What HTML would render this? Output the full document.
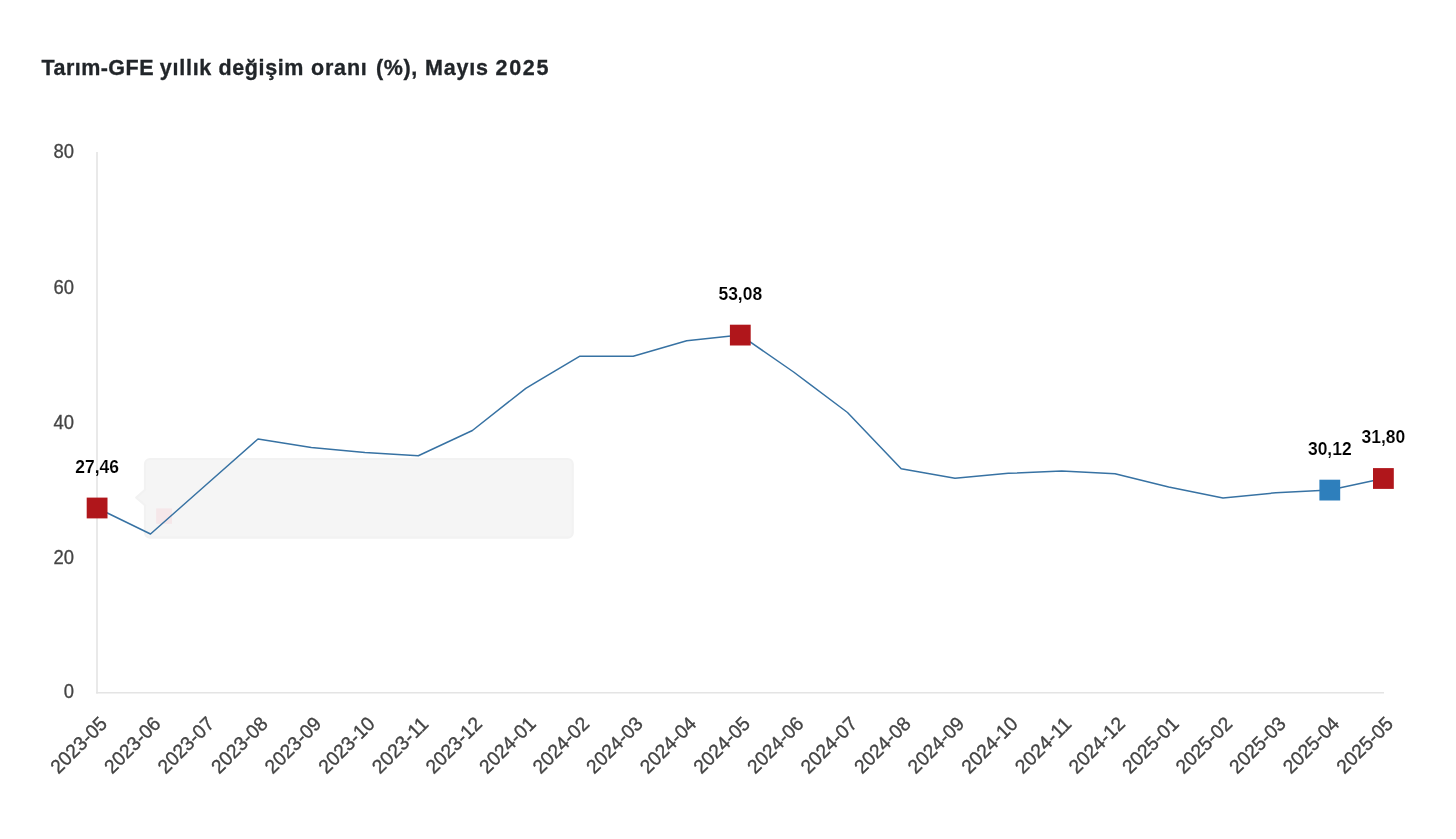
<!DOCTYPE html>
<html lang="tr"><head><meta charset="utf-8"><title>Tarım-GFE</title>
<style>
html,body{margin:0;padding:0;background:#fff;}
body{width:1456px;height:839px;overflow:hidden;position:relative;font-family:"Liberation Sans",sans-serif;}
.title{position:absolute;left:0;top:53.5px;font-size:21.5px;line-height:28px;font-weight:bold;color:#212529;white-space:nowrap;will-change:transform;width:600px;height:30px;-webkit-text-stroke:0.3px #212529;}
.title span{position:absolute;top:0;}
svg{position:absolute;left:0;top:0;will-change:transform;}
.tick{font-family:"Liberation Sans",sans-serif;font-size:19.6px;fill:#444;stroke:#444;stroke-width:0.35px;}
.ytick{font-size:19.3px;stroke-width:0.3px;}
.dl{font-family:"Liberation Sans",sans-serif;font-size:17.8px;font-weight:bold;fill:#000;stroke:#fff;stroke-width:0.12px;}
</style></head><body>
<div class="title"><span style="left:41.5px;letter-spacing:0.46px">Tarım-GFE</span><span style="left:159.8px;letter-spacing:0.74px">yıllık</span><span style="left:218.4px;letter-spacing:0.64px">değişim</span><span style="left:311.0px;letter-spacing:0.81px">oranı</span><span style="left:376.0px;letter-spacing:0.59px">(%),</span><span style="left:425.0px;letter-spacing:0.81px">Mayıs</span><span style="left:495.5px;letter-spacing:1.72px">2025</span></div>
<svg width="1456" height="839" viewBox="0 0 1456 839">
<line x1="97" y1="152" x2="97" y2="693.5" stroke="#e4e4e4" stroke-width="1.6"/>
<line x1="96.2" y1="692.8" x2="1384" y2="692.8" stroke="#e4e4e4" stroke-width="1.6"/>
<text x="73.9" y="158.25" text-anchor="end" class="tick ytick" textLength="20.50" lengthAdjust="spacingAndGlyphs">80</text>
<text x="73.9" y="293.75" text-anchor="end" class="tick ytick" textLength="20.50" lengthAdjust="spacingAndGlyphs">60</text>
<text x="73.9" y="428.75" text-anchor="end" class="tick ytick" textLength="20.50" lengthAdjust="spacingAndGlyphs">40</text>
<text x="73.9" y="563.75" text-anchor="end" class="tick ytick" textLength="20.50" lengthAdjust="spacingAndGlyphs">20</text>
<text x="73.9" y="698.15" text-anchor="end" class="tick ytick" textLength="10.25" lengthAdjust="spacingAndGlyphs">0</text>
<text class="tick" text-anchor="end" textLength="70.2" lengthAdjust="spacingAndGlyphs" transform="translate(108.2,725.0) rotate(-45)">2023-05</text>
<text class="tick" text-anchor="end" textLength="70.2" lengthAdjust="spacingAndGlyphs" transform="translate(161.8,725.0) rotate(-45)">2023-06</text>
<text class="tick" text-anchor="end" textLength="70.2" lengthAdjust="spacingAndGlyphs" transform="translate(215.4,725.0) rotate(-45)">2023-07</text>
<text class="tick" text-anchor="end" textLength="70.2" lengthAdjust="spacingAndGlyphs" transform="translate(268.9,725.0) rotate(-45)">2023-08</text>
<text class="tick" text-anchor="end" textLength="70.2" lengthAdjust="spacingAndGlyphs" transform="translate(322.5,725.0) rotate(-45)">2023-09</text>
<text class="tick" text-anchor="end" textLength="70.2" lengthAdjust="spacingAndGlyphs" transform="translate(376.1,725.0) rotate(-45)">2023-10</text>
<text class="tick" text-anchor="end" textLength="70.2" lengthAdjust="spacingAndGlyphs" transform="translate(429.7,725.0) rotate(-45)">2023-11</text>
<text class="tick" text-anchor="end" textLength="70.2" lengthAdjust="spacingAndGlyphs" transform="translate(483.3,725.0) rotate(-45)">2023-12</text>
<text class="tick" text-anchor="end" textLength="70.2" lengthAdjust="spacingAndGlyphs" transform="translate(536.9,725.0) rotate(-45)">2024-01</text>
<text class="tick" text-anchor="end" textLength="70.2" lengthAdjust="spacingAndGlyphs" transform="translate(590.4,725.0) rotate(-45)">2024-02</text>
<text class="tick" text-anchor="end" textLength="70.2" lengthAdjust="spacingAndGlyphs" transform="translate(644.0,725.0) rotate(-45)">2024-03</text>
<text class="tick" text-anchor="end" textLength="70.2" lengthAdjust="spacingAndGlyphs" transform="translate(697.6,725.0) rotate(-45)">2024-04</text>
<text class="tick" text-anchor="end" textLength="70.2" lengthAdjust="spacingAndGlyphs" transform="translate(751.2,725.0) rotate(-45)">2024-05</text>
<text class="tick" text-anchor="end" textLength="70.2" lengthAdjust="spacingAndGlyphs" transform="translate(804.8,725.0) rotate(-45)">2024-06</text>
<text class="tick" text-anchor="end" textLength="70.2" lengthAdjust="spacingAndGlyphs" transform="translate(858.4,725.0) rotate(-45)">2024-07</text>
<text class="tick" text-anchor="end" textLength="70.2" lengthAdjust="spacingAndGlyphs" transform="translate(911.9,725.0) rotate(-45)">2024-08</text>
<text class="tick" text-anchor="end" textLength="70.2" lengthAdjust="spacingAndGlyphs" transform="translate(965.5,725.0) rotate(-45)">2024-09</text>
<text class="tick" text-anchor="end" textLength="70.2" lengthAdjust="spacingAndGlyphs" transform="translate(1019.1,725.0) rotate(-45)">2024-10</text>
<text class="tick" text-anchor="end" textLength="70.2" lengthAdjust="spacingAndGlyphs" transform="translate(1072.7,725.0) rotate(-45)">2024-11</text>
<text class="tick" text-anchor="end" textLength="70.2" lengthAdjust="spacingAndGlyphs" transform="translate(1126.3,725.0) rotate(-45)">2024-12</text>
<text class="tick" text-anchor="end" textLength="70.2" lengthAdjust="spacingAndGlyphs" transform="translate(1179.9,725.0) rotate(-45)">2025-01</text>
<text class="tick" text-anchor="end" textLength="70.2" lengthAdjust="spacingAndGlyphs" transform="translate(1233.4,725.0) rotate(-45)">2025-02</text>
<text class="tick" text-anchor="end" textLength="70.2" lengthAdjust="spacingAndGlyphs" transform="translate(1287.0,725.0) rotate(-45)">2025-03</text>
<text class="tick" text-anchor="end" textLength="70.2" lengthAdjust="spacingAndGlyphs" transform="translate(1340.6,725.0) rotate(-45)">2025-04</text>
<text class="tick" text-anchor="end" textLength="70.2" lengthAdjust="spacingAndGlyphs" transform="translate(1394.2,725.0) rotate(-45)">2025-05</text>
<g><path d="M150,459 H567.7 a5,5 0 0 1 5,5 V532.7 a5,5 0 0 1 -5,5 H150 a5,5 0 0 1 -5,-5 V505.3 L136.3,497.6 L145,489.8 V464 a5,5 0 0 1 5,-5 Z" fill="#f5f5f5" stroke="#f2f2f2" stroke-width="2.2" stroke-linejoin="round"/><rect x="156.2" y="508.4" width="15.8" height="15.4" fill="#f5e7e9"/></g>
<polyline points="97.1,508.0 150.5,534.0 204.2,486.5 258.0,439.0 311.3,447.5 364.9,452.5 418.3,455.8 472.4,430.5 525.8,388.3 579.5,356.3 633.2,356.3 686.7,340.8 740.3,335.1 793.6,372.0 847.5,412.5 901.2,468.8 955.0,478.3 1008.3,473.3 1061.7,471.1 1115.0,473.8 1168.7,487.0 1223.0,498.0 1275.8,492.8 1329.8,490.1 1383.4,478.5" fill="none" stroke="#3772a3" stroke-width="1.5" stroke-linejoin="round"/>
<rect x="86.7" y="497.6" width="20.8" height="20.8" fill="#b0161b"/>
<rect x="729.9" y="324.7" width="20.8" height="20.8" fill="#b0161b"/>
<rect x="1319.4" y="479.7" width="20.8" height="20.8" fill="#2e7fbc"/>
<rect x="1373.0" y="468.1" width="20.8" height="20.8" fill="#b0161b"/>
<text class="dl" x="97.1" y="473.4" text-anchor="middle" textLength="43.7" lengthAdjust="spacingAndGlyphs">27,46</text>
<text class="dl" x="740.3" y="299.8" text-anchor="middle" textLength="43.7" lengthAdjust="spacingAndGlyphs">53,08</text>
<text class="dl" x="1329.8" y="454.7" text-anchor="middle" textLength="43.7" lengthAdjust="spacingAndGlyphs">30,12</text>
<text class="dl" x="1383.4" y="443.4" text-anchor="middle" textLength="43.7" lengthAdjust="spacingAndGlyphs">31,80</text>
</svg>
</body></html>
